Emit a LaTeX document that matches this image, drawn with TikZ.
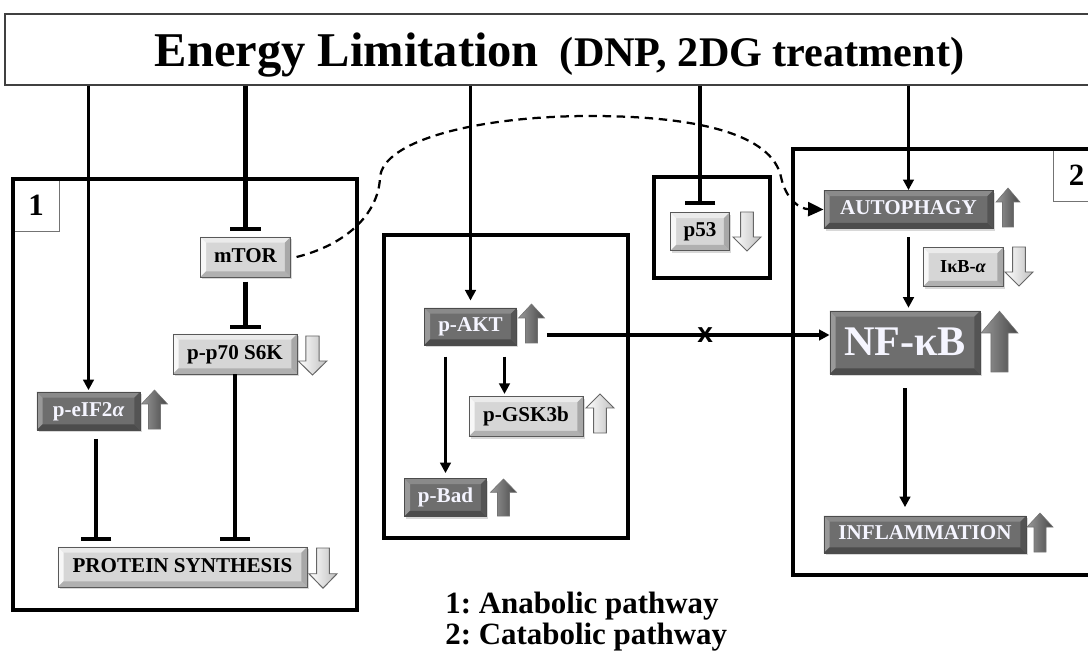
\documentclass[tikz,border=0pt]{standalone}
\usepackage{fontspec}
\setmainfont{Liberation Serif}
\newfontfamily\xsans{Liberation Sans}
\usepackage{tikz}
\usetikzlibrary{arrows.meta, calc, shadows}

\newcommand{\pbb}{path picture bounding box}
\frenchspacing

\begin{document}
\begin{tikzpicture}[
    x=0.025cm, y=-0.025cm,
    bevel/.style n args={4}{path picture={
        \fill[#1] (\pbb.north west) -- (\pbb.north east) -- ([shift={(-4pt,-4pt)}]\pbb.north east) -- ([shift={(4pt,-4pt)}]\pbb.north west) -- cycle;
        \fill[#2] (\pbb.north west) -- (\pbb.south west) -- ([shift={(4pt,4pt)}]\pbb.south west) -- ([shift={(4pt,-4pt)}]\pbb.north west) -- cycle;
        \fill[#3] (\pbb.south west) -- (\pbb.south east) -- ([shift={(-4pt,4pt)}]\pbb.south east) -- ([shift={(4pt,4pt)}]\pbb.south west) -- cycle;
        \fill[#4] (\pbb.north east) -- (\pbb.south east) -- ([shift={(-4pt,4pt)}]\pbb.south east) -- ([shift={(-4pt,-4pt)}]\pbb.north east) -- cycle;
    }},
    gbox/.style={rectangle, inner sep=0pt, line width=0.6pt, font=\fontsize{15}{16}\selectfont\bfseries, text height=10.5pt, text depth=3pt, drop shadow={shadow xshift=1.2pt, shadow yshift=-1.5pt, opacity=0.3}},
    lightbox/.style={gbox, draw=black!65, fill=black!16, text=black, bevel={black!8}{black!3}{black!31}{black!34}},
    darkbox/.style={gbox, draw=black!70, fill=black!57, text=blue!4, bevel={black!46}{black!40}{black!70}{black!67}},
    titlebox/.style={draw=black!75, line width=1.1pt, inner sep=0pt, minimum width=27.725cm, minimum height=1.775cm, text depth=0pt, font=\bfseries},
    numbox/.style={draw=black!55, line width=0.6pt, inner sep=0pt, minimum height=1.3cm, font=\fontsize{22}{24}\selectfont\bfseries},
    frame/.style={draw=black, line width=2.4pt},
    act/.style={line width=2.2pt, -{Triangle[length=7.5pt, width=7.5pt]}},
    inh/.style={line width=3.4pt, -{Bar[width=22pt, line width=3pt]}},
    pics/upmark/.style={code={
        \shadedraw[left color=black!40, right color=black!72, draw=black!55, line width=0.4pt]
            (-6,0) -- (-6,-25) -- (-13,-25) -- (0,-39) -- (13,-25) -- (6,-25) -- (6,0) -- cycle;}},
    pics/uphollow/.style={code={
        \shadedraw[left color=white, right color=black!25, draw=black!60, line width=0.7pt]
            (-6,0) -- (-6,-25) -- (-13,-25) -- (0,-39) -- (13,-25) -- (6,-25) -- (6,0) -- cycle;}},
    pics/downhollow/.style={code={
        \shadedraw[left color=white, right color=black!25, draw=black!60, line width=0.7pt]
            (-6,0) -- (-6,25) -- (-13,25) -- (0,39) -- (13,25) -- (6,25) -- (6,0) -- cycle;}}
]
\clip (0,0) rectangle (1088,663);
\fill[white] (0,0) rectangle (1088,663);

% Title bar
\node[titlebox] (title) at (559.5,49.5) {{\fontsize{34.5}{40}\selectfont Energy Limitation}\hspace{15pt}{\fontsize{30}{34}\selectfont(DNP, 2DG treatment)}};

% Pathway frames
\node[numbox, minimum width=1.15cm] (num1) at (36,205) {1};
\node[numbox, minimum width=1.175cm] (num2) at (1076.5,175) {2};
\draw[frame] (13,179) rectangle (357,610);
\draw[frame] (384,235) rectangle (628,538);
\draw[frame] (654,177) rectangle (770,278);
\draw[frame] (793,149) rectangle (1110,575);

% Anabolic side
\node[lightbox, minimum width=2.25cm, minimum height=1cm] (mtor) at (245.5,257) {mTOR};
\node[lightbox, minimum width=3.1cm, minimum height=1cm] (p70) at (235,354) {p-p70 S6K};
\node[darkbox, minimum width=2.575cm, minimum height=0.95cm] (eif) at (88.5,411) {p-eIF2{\itshape α}};
\node[lightbox, minimum width=6.225cm, minimum height=1cm] (prot) at (182.5,567) {PROTEIN SYNTHESIS};

% AKT branch
\node[darkbox, minimum width=2.3cm, minimum height=0.925cm] (akt) at (470.5,326.5) {p-AKT};
\node[lightbox, minimum width=2.85cm, minimum height=1cm] (gsk) at (526,416.5) {p-GSK3b};
\node[darkbox, minimum width=2.05cm, minimum height=0.95cm] (bad) at (445.5,497.5) {p-Bad};
\node[lightbox, minimum width=1.475cm, minimum height=0.95cm] (p53) at (700,231.5) {p53};

% Catabolic side
\node[darkbox, minimum width=4.225cm, minimum height=0.95cm] (auto) at (908.5,209.5) {AUTOPHAGY};
\node[lightbox, minimum width=2cm, minimum height=0.975cm, font=\fontsize{13}{14}\selectfont\bfseries] (ikb) at (963,267) {IκB-{\itshape α}};
\node[darkbox, minimum width=3.75cm, minimum height=1.575cm, font=\fontsize{30}{32}\selectfont\bfseries, text height=20pt, text depth=2pt] (nfkb) at (905,342.5) {NF-κB};
\node[darkbox, minimum width=5.05cm, minimum height=0.925cm] (inflam) at (925,534.5) {INFLAMMATION};

% up / down marks
\pic at (154.5,429) {upmark};
\pic[xscale=1.1] at (312.5,336) {downhollow};
\pic[xscale=1.08, yscale=1.03] at (323,548) {downhollow};
\pic at (531.5,343) {upmark};
\pic[xscale=1.08] at (600,433) {uphollow};
\pic[yscale=0.95] at (503.5,516) {upmark};
\pic[xscale=1.08] at (747,212) {downhollow};
\pic[xscale=0.92] at (1008,227) {upmark};
\pic[xscale=1.08] at (1019,247) {downhollow};
\pic[xscale=1.42, yscale=1.56] at (999.5,372) {upmark};
\pic at (1040,552) {upmark};

% Connectors from the title bar
\draw[act, shorten >=1pt] (title.south -| eif) -- (eif.north);
\draw[inh, shorten >=4pt] (title.south -| mtor) -- (mtor.north);
\draw[act, shorten >=5pt] (title.south -| akt) -- (akt.north);
\draw[inh, shorten >=5pt] (title.south -| p53) -- (p53.north);
\draw[act] (title.south -| auto) -- (auto.north);

% Anabolic links
\draw[inh, shorten <=3pt, shorten >=3pt] (mtor.south) -- (mtor.south |- p70.north);
\draw[inh, shorten <=6pt, shorten >=4pt] ($(eif.south)+(7.5,0)$) -- ($(eif.south |- prot.north)+(7.5,0)$);
\draw[inh, shorten >=4pt] (p70.south) -- (p70.south |- prot.north);
\draw[line width=1.6pt, dash pattern=on 6pt off 4pt, -{Triangle[length=11pt, width=10pt]}]
    ([xshift=4pt]mtor.east) .. controls (345,245) and (378,215) .. (380,178)
    .. controls (382,140) and (480,116) .. (590,116)
    .. controls (700,116) and (772,135) .. (781,177)
    .. controls (786,200) and (800,209) .. (auto.west);

% AKT links
\draw[act, shorten <=8pt, shorten >=1.5pt] ($(akt.south)+(34,0)$) -- ($(akt.south |- gsk.north)+(34,0)$);
\draw[act, shorten <=8pt, shorten >=3.5pt] (akt.south -| bad) -- (bad.north);
\coordinate (aktout) at ($(akt.east)+(30,8.5)$);
\draw[act] (aktout) -- (aktout -| nfkb.west)
    node[pos=0.56, font=\xsans\bfseries\fontsize{20}{20}\selectfont, inner sep=0pt] (xmark) {x};

% Catabolic links
\draw[act, shorten <=6pt, shorten >=2pt] (auto.south) -- (auto.south |- nfkb.north);
\draw[act, shorten <=10pt, shorten >=6pt] (nfkb.south) -- (nfkb.south |- inflam.north);

% Legend
\node[anchor=north west, align=left, inner sep=0pt, font=\fontsize{22}{22}\selectfont\bfseries] (legend) at (445,592) {1: Anabolic pathway\\2: Catabolic pathway};
\end{tikzpicture}
\end{document}
